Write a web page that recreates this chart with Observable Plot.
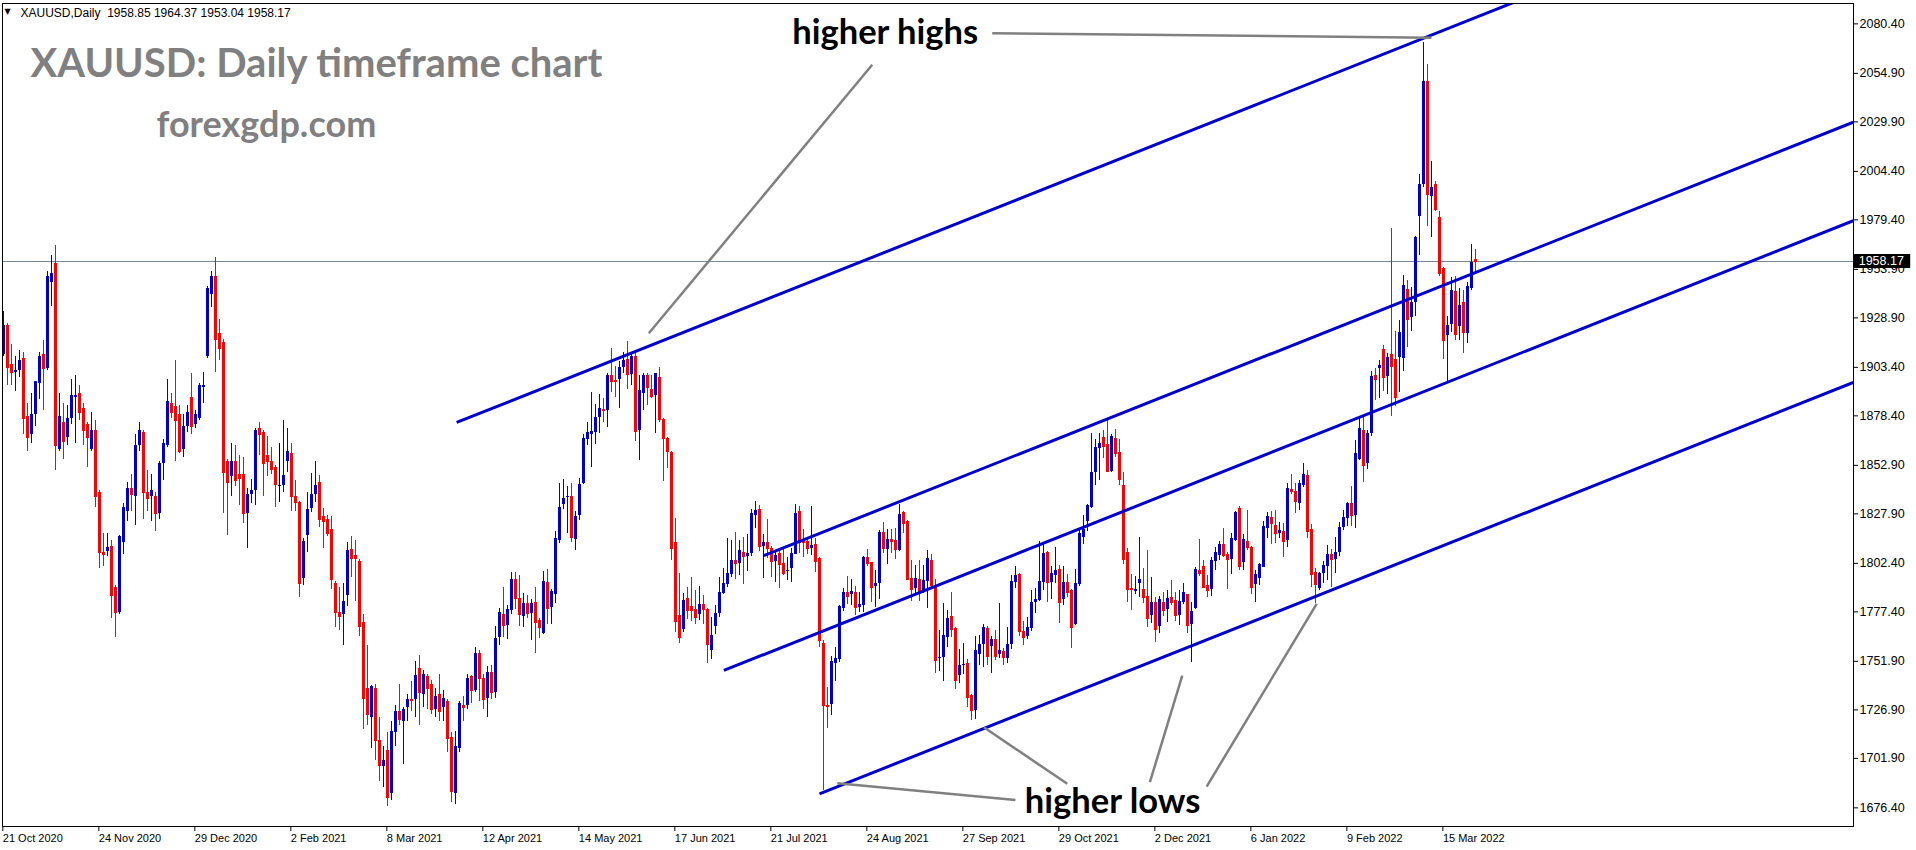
<!DOCTYPE html>
<html><head><meta charset="utf-8">
<script src="https://cdn.jsdelivr.net/npm/d3@7"></script>
<script src="https://cdn.jsdelivr.net/npm/@observablehq/plot@0.6"></script>
<style>html,body{margin:0;padding:0;background:#fff;overflow:hidden;} #chart svg{display:block;}</style>
</head><body><div id="chart"></div>
<script>
const symbol = "XAUUSD";
const timeframe = "Daily";
const chartTitle = "XAUUSD: Daily timeframe chart";
const siteName = "forexgdp.com";

// daily bars, index 0 = 21 Oct 2020
const opens = [
1910,1925,1905,1901,1902,1908,1878,1869,1879,1895,
1910,1903,1947,1957,1861,1875,1867,1877,1888,1890,
1882,1874,1861,1871,1839,1808,1808.5,1811,1790,1777,
1813,1829,1841,1837,1863,1870,1839,1837,1837,1828,
1854,1863,1885,1883,1879,1861,1873,1888,1874,1877,
1893,1909,1941,1950,1921,1916,1855,1847,1855,1848,
1848,1828,1838,1840,1872,1870,1858,1855,1852,1842.5,
1842.5,1855,1859,1837,1834,1794.6,1817,1830.5,1838,1844,
1826.4,1825,1820,1792,1777,1776,1786,1809.5,1806.6,1803.4,
1772,1738,1723,1738,1711,1697.6,1706,1684,1715,1726,
1721,1728,1732,1732,1748,1735,1744,1740,1727,1735,
1728,1731,1712.5,1684,1707,1729,1729,1744,1737,1756,
1743,1733,1746,1736,1764,1776,1770.5,1778.2,1794,1784.3,
1775.2,1781.7,1776.7,1782.2,1772.7,1766,1792.5,1779.4,1786.5,1814.1,
1832.9,1836.1,1836.8,1814.8,1827,1843.5,1866.4,1868.8,1870,1877.5,
1881.6,1881.1,1899.2,1896.6,1897.1,1903.3,1907.4,1899.8,1909.1,1871,
1890.1,1899.2,1891.9,1888.7,1898.1,1876.5,1866.9,1859.5,1813.1,1775.3,
1768.5,1784.3,1780.1,1778.6,1775.8,1781.2,1778.6,1757.5,1770,1776.4,
1786.8,1791.5,1796.6,1804,1802.5,1808,1805.9,1807.4,1827.2,1830.1,
1811.2,1813.1,1810.2,1803.5,1807.3,1802.3,1798,1799.7,1807.1,1829.1,
1814.8,1813.6,1810.2,1812.2,1804.9,1761.1,1729.1,1729.8,1751,1752.8,
1779.3,1787.4,1786.2,1787.5,1779.8,1780.8,1805.6,1802.8,1790.4,1792.2,
1818.5,1809.7,1814.5,1814.2,1809,1828.6,1823.8,1794.8,1789.3,1794.1,
1788.4,1793.2,1803.9,1790.1,1753.5,1754.1,1764.4,1775,1769,1744.6,
1749.8,1751,1734.3,1726.5,1755.4,1760.4,1768.8,1759.5,1763.1,1755.4,
1757,1753.5,1760.7,1792.5,1796.6,1767.4,1764.7,1769,1782.4,1783.4,
1792.7,1807.8,1792.7,1796.3,1799.2,1783.6,1792.7,1788.2,1771,1791.3,
1815.5,1824.1,1831.3,1849,1861.7,1867.2,1863.5,1849.7,1866.7,1859.3,
1842.5,1807.8,1789.3,1788.1,1792.1,1788.9,1785.3,1775.7,1782.2,1769.8,
1782.4,1778.8,1784.6,1783.2,1775.7,1782.4,1786.3,1770.9,1778.9,1798.5,
1800.8,1791,1788.7,1803.5,1806.3,1812.1,1807.1,1804.2,1814.2,1830.5,
1803,1813.8,1810.7,1791.3,1794.8,1800.4,1820.2,1825.8,1821.9,1817.6,
1818.8,1814.2,1840.3,1839.4,1833.1,1842.5,1847.7,1819.8,1797.9,1789.3,
1797,1800.8,1807,1804.5,1807.8,1820.7,1825.7,1833.4,1827.1,1855.9,
1870.9,1854.1,1869.1,1899.2,1903,1912.6,1898.9,1910.2,1907.5,1908.3,
1908.1,1943.4,1929.3,1937,1981.3,1997.6,2050.7,1991.6,1997.6,1980.5,
1954.2,1919.8,1925.5,1942.5,1924.5,1936.8,1921,1944.2,1958.85];

const highs = [
1932,1926,1915,1909,1912,1911,1885,1890,1896,1911,
1917,1953,1961,1966,1890,1885,1884,1897,1899,1894,
1885,1875,1880,1876,1840,1818,1818,1814,1791,1817,
1833,1844,1848,1869,1875,1871,1850,1848,1839,1855,
1866,1897,1890,1907,1884,1879,1884,1900,1881,1895,
1901,1945,1953,1960,1928,1918,1856,1864,1863,1858,
1857,1841,1845.5,1872,1875,1871,1868,1862,1853,1864,
1876,1872,1864,1845,1834.5,1815,1839,1848.6,1855,1847.6,
1830.5,1827,1826.6,1793,1790,1792,1813,1816,1814,1804.3,
1776,1760,1739.5,1740,1723,1708,1715,1721,1729,1740,
1728,1735,1741.5,1752,1755,1747,1745,1742,1738,1745,
1737,1732,1715,1716,1731,1734,1745,1744.5,1759,1757.5,
1745,1749,1750,1770,1779,1790,1780.6,1797.5,1797.8,1795.9,
1786.7,1785.6,1783.9,1789.9,1774.1,1798,1799,1789.1,1818.6,1843.3,
1845.4,1842,1843.7,1828.9,1846.1,1868.6,1874.9,1890.7,1884.4,1889.4,
1887.3,1900.4,1913.1,1903.8,1906.5,1911,1916.5,1910.7,1910.7,1899.2,
1900,1900,1899.3,1900.4,1903.3,1876.8,1867,1859.8,1825.5,1797,
1786.7,1790.1,1794.9,1788.4,1790.3,1785.6,1778.9,1774.3,1780.6,1795.1,
1799.5,1815,1814.3,1818.3,1814,1815.9,1817.2,1830.1,1834.2,1832.2,
1817.5,1825,1811,1808.7,1808.5,1809.7,1805.2,1809.9,1832.7,1831.5,
1819.6,1814.8,1831.8,1815.3,1805.5,1762.8,1738.3,1754.5,1759,1780.5,
1789.6,1795.4,1793.9,1790.3,1787.4,1806.1,1809.5,1803,1798.5,1819.3,
1823.4,1820,1820,1820.2,1832.9,1829.1,1824.5,1803.7,1801.3,1803.9,
1801.3,1809,1806.9,1793.9,1767.8,1781.7,1778.3,1787.4,1769.1,1758,
1761.1,1753,1734.8,1764.9,1765.2,1770.9,1769.8,1764.9,1767.8,1781.7,
1758.3,1769.5,1796.1,1800.8,1797,1772.4,1774.7,1788.4,1789.6,1813.8,
1812.1,1808.7,1800.8,1810.7,1801.5,1800.8,1796.8,1788.7,1799,1819.1,
1827,1832.7,1869.1,1866,1869.1,1870.7,1876,1868.6,1871.4,1866.2,
1849.4,1810.2,1796.5,1795.4,1815.9,1799.7,1809,1795.3,1784.6,1785.5,
1787.4,1788.2,1793.4,1787.4,1788.2,1792.2,1786.5,1782.2,1800.4,1814.7,
1803.7,1796.1,1805.4,1810.4,1813.6,1820.5,1808.1,1817.6,1829.3,1831.5,
1817.1,1829.6,1811.1,1798.7,1802.1,1824,1828.4,1829.1,1829.6,1823.3,
1823.1,1843.7,1848,1843.7,1845.1,1853.7,1850.2,1822.2,1799.9,1797.7,
1803.3,1811.6,1809.4,1815.5,1823.6,1829.6,1833.9,1842,1865.6,1877.8,
1877.8,1870.9,1901.5,1902.7,1907,1914.6,1910.4,1974.8,1921.9,1927.6,
1950.7,1948.2,1944.7,1970.6,2002.8,2071,2059.6,2009.4,1999,1983.9,
1954.7,1929.6,1949.8,1950.2,1943.9,1943,1947.3,1966.6,1964.37];

const lows = [
1909,1894,1894,1891,1898,1869,1860,1864,1873,1887,
1881,1902,1935,1850,1860,1856,1863,1874,1864,1876,
1863,1852,1860,1831,1800,1801,1806,1774,1764,1776,
1807,1824,1829,1822,1860,1825,1829,1824,1819,1825,
1845,1862,1877,1855,1859,1857,1870,1869,1872,1876,
1885,1908,1934,1901,1907,1828,1817,1837,1842,1832,
1823,1810,1833,1832,1858,1837,1847,1848,1831,1834,
1839,1849,1829,1829,1785,1791,1808,1828.6,1834,1821,
1810,1816,1789,1769.5,1768,1760,1780,1795,1783,1764.5,
1717,1719,1707,1701,1690,1687,1677,1680,1708,1719,
1699,1721,1726,1723,1719,1728,1727,1724.5,1723,1721,
1721,1705,1679,1678,1705,1721,1727,1730,1736,1731,
1727,1723,1732,1733,1760,1764,1763.3,1776.2,1778.8,1770,
1769.1,1773.8,1762.4,1756.1,1763.8,1765.5,1771,1770.7,1781.8,1812.8,
1829.9,1817.6,1813.1,1808.8,1824.3,1843.2,1863.3,1851.9,1863.9,1869.4,
1875.1,1872.5,1890.6,1888,1882.2,1900,1891.9,1894.2,1865.2,1855.5,
1881.1,1883.9,1887.3,1869.4,1874.8,1844.7,1851.2,1804,1766.7,1760.9,
1766.9,1773.3,1772.4,1770.7,1772.9,1770.9,1750.6,1753,1765.5,1774.6,
1786.3,1789.9,1794.9,1793.9,1796,1791.7,1798.4,1806,1820.2,1808.7,
1794.7,1805,1794.9,1792.7,1789.6,1796.1,1793.7,1792.4,1806.9,1807.3,
1805.6,1806.9,1806.4,1797.8,1759.2,1685.3,1717.5,1724.1,1741.7,1751.5,
1777.7,1781.3,1780.5,1775.3,1777.2,1776.9,1800.7,1782.4,1779.6,1783.6,
1807.6,1801.6,1807.3,1804.5,1808.7,1817.9,1793.5,1782.6,1786.3,1782.9,
1786.7,1779.3,1789.3,1745.4,1746.5,1741.5,1759.2,1764,1737.4,1740.3,
1745,1728.1,1721.6,1722.1,1749.6,1748.9,1749.7,1745.8,1752.3,1753.5,
1749.7,1750.6,1757.8,1789.3,1764.7,1759.9,1763,1767.1,1776.4,1782.9,
1788.4,1782.4,1783.8,1791.8,1771.6,1780.8,1784.8,1758.7,1770.5,1790.5,
1812.1,1819,1830.5,1842.5,1845.1,1856.2,1849.4,1849.4,1857.1,1842.5,
1801.8,1782,1778.3,1786.3,1784.6,1781.5,1769.5,1771.2,1761.8,1766.1,
1774.8,1772.1,1780.7,1772.4,1770.2,1781.4,1766.1,1751.5,1778.4,1795.8,
1789.3,1784.6,1785.1,1798.9,1803.9,1805.6,1789.1,1796.6,1813.8,1798.7,
1798.7,1809,1786.2,1782.4,1791,1800.1,1815,1812.3,1812.8,1815,
1805.6,1810.7,1837.9,1828.3,1829.6,1841.6,1815.4,1790.1,1781.9,1788.4,
1791.8,1793.6,1790.1,1797,1806.1,1819.3,1821.6,1821.5,1820.6,1855.4,
1844.3,1850.6,1868,1886.3,1887.6,1891.1,1889.4,1878.3,1883.3,1890.6,
1901.5,1913.8,1921.9,1929.6,1961,1996,1975.9,1970.5,1983.9,1950.2,
1907.3,1895.8,1921.6,1917.3,1917.3,1910.4,1915.5,1943,1953.04];

const closes = [
1925,1903.5,1901,1902,1907,1877,1867,1879,1896,1909,
1903,1950,1952,1863,1878,1865,1877,1889,1889,1880,
1871,1867,1871,1837,1808,1807,1810.6,1786,1777,1816,
1831,1841,1838,1863,1871,1839,1836,1840,1828,1854,
1864,1886,1880,1876,1860,1873,1880,1873,1879,1894,
1894,1944,1950,1918,1913,1849,1844,1855,1845,1846,
1828,1838,1840,1871,1869,1854,1855,1851,1843,1842.5,
1847.6,1860,1837,1834,1792,1813.5,1830,1837.7,1842.5,1825,
1824,1818,1794,1777,1775,1783,1809,1804.7,1804.7,1770,
1733,1724.5,1739,1711,1698,1700.6,1682,1716,1726,1722,
1727,1732,1731.7,1744.5,1736,1745,1738,1727,1734,1726,
1733,1712,1685,1708,1730,1728,1743,1737,1756,1743,
1732,1746,1736,1763.5,1777,1770.5,1778.6,1794,1784.4,1776,
1781.7,1776.7,1781.7,1771.9,1769.1,1793,1779.3,1788,1815.2,1831,
1835.8,1837,1815.9,1826.8,1843,1866.7,1869.8,1870.5,1877.5,1882,
1881.1,1899.2,1896.2,1896.2,1903.3,1906.9,1899.8,1909.1,1870.5,1891.6,
1899.2,1893.1,1888.5,1900,1876.3,1866.5,1860.2,1810.2,1772.6,1764.3,
1783.1,1778.2,1778.1,1774.5,1781.2,1778.8,1760.7,1765,1776.5,1787.2,
1792,1797.3,1804,1802.1,1809,1805.9,1807.4,1828,1829.6,1811.2,
1813.1,1810.2,1803.5,1806.5,1802,1797.3,1798.7,1807.4,1828,1813,
1813,1810.2,1811.6,1803.5,1762.8,1729.1,1728.6,1751.7,1753.3,1780.1,
1787.4,1785.3,1787.9,1779.8,1781.2,1805.6,1802.4,1790.1,1791.8,1818.5,
1810.2,1814.8,1813.6,1809.4,1827.7,1822.7,1793.9,1789.1,1794.4,1787.9,
1793.5,1804.7,1791,1752.3,1754.1,1765,1774.1,1768.2,1742,1749.8,
1750.5,1733.3,1726.4,1757.5,1760.6,1769.5,1754.6,1763.1,1754.4,1757.5,
1753.9,1760.4,1793,1796.1,1767.4,1764.4,1769.2,1782.4,1783.8,1793,
1807.5,1792.7,1797.3,1798.7,1782,1792.5,1787.5,1769.3,1792,1817.8,
1820,1832.2,1849.2,1862.1,1864.1,1862.8,1849.7,1867.9,1858.8,1845.4,
1804.5,1789.1,1788.7,1789.1,1794,1785,1774.1,1782.2,1768.5,1783.6,
1778.3,1784.3,1782.4,1775.5,1782.9,1787.4,1770.2,1777.7,1799.2,1797.2,
1790.1,1788.4,1803.7,1808,1812.1,1806.4,1804.2,1815,1828.8,1800.9,
1814.7,1810.7,1789.8,1796.5,1801.8,1821.4,1826.5,1822.8,1817.6,1819.3,
1813.8,1840.8,1839.4,1834.4,1843.7,1848,1819,1796.5,1791.5,1797,
1801.3,1807,1804.5,1807.8,1821,1826.2,1833.2,1827,1858.8,1872,
1852.9,1869.3,1898.7,1897.2,1904.4,1898.4,1908.5,1903.9,1888.1,1921.4,
1945.6,1927.9,1936.8,1970.3,1997.6,2050.7,1992.5,1995.9,1984.7,1951.6,
1917.3,1925,1943,1920.4,1935.3,1921.4,1945.1,1957.5,1958.17];

// time axis: bar index of each date label
const xTickBars = [0,24,48,72,96,120,144,168,192,216,240,264,288,312,336,360];
const xTickLabels = ["21 Oct 2020","24 Nov 2020","29 Dec 2020","2 Feb 2021","8 Mar 2021","12 Apr 2021","14 May 2021","17 Jun 2021","21 Jul 2021","24 Aug 2021","27 Sep 2021","29 Oct 2021","2 Dec 2021","6 Jan 2022","9 Feb 2022","15 Mar 2022"];
// price axis labels
const yTickLabels = ["1676.40","1701.90","1726.90","1751.90","1777.40","1802.40","1827.90","1852.90","1878.40","1903.40","1928.90","1953.90","1979.40","2004.40","2029.90","2054.90","2080.40"];

// channel trend lines: start bar/price, end bar/price
const channelStartBar = [113.2, 190.0, 180.0, 203.9];
const channelStartPrice = [1875.0, 1806.4, 1747.2, 1683.6];
const channelEndBar = [379.2, 462.35, 462.35, 462.35];
const channelEndPrice = [2092.9, 2029.7, 1979.0, 1895.6];

// grey pointer lines from the notes to the highs / lows
const pointerStartBar = [247.1, 217.1, 252.9, 265.85, 286.5, 300.7];
const pointerStartPrice = [2075.6, 2059.3, 1680.5, 1688.8, 1689.6, 1687.4];
const pointerEndBar = [356.9, 161.25, 208.35, 245.0, 294.6, 328.2];
const pointerEndPrice = [2073.3, 1921.0, 1689.1, 1717.9, 1744.6, 1781.5];

const noteTexts = ["higher highs", "higher lows"];
const noteBar = [197.1, 255.25];
const notePrice = [2075.9, 1679.4];

// ---- build ----
const candles = opens.map((o, i) => ({i, open: o, high: highs[i], low: lows[i], close: closes[i]}));
const candleColor = d => d.close > d.open ? "#0000cd" : d.close < d.open ? "#ff0000" : "#000000";
const last = candles[candles.length - 1];
const channels = channelStartBar.map((b, k) => ({x1: b, y1: channelStartPrice[k], x2: channelEndBar[k], y2: channelEndPrice[k]}));
const pointers = pointerStartBar.map((b, k) => ({x1: b, y1: pointerStartPrice[k], x2: pointerEndBar[k], y2: pointerEndPrice[k]}));
const notes = noteTexts.map((t, k) => ({text: t, x: noteBar[k], y: notePrice[k]}));
const xLabelOf = new Map(xTickBars.map((b, k) => [b, xTickLabels[k]]));
const yTickValues = yTickLabels.map(Number);
const yLabelOf = new Map(yTickValues.map((v, k) => [v, yTickLabels[k]]));
const fmt = v => v.toFixed(2);
const header = `${symbol},${timeframe}\u00a0\u00a0${fmt(last.open)} ${fmt(last.high)} ${fmt(last.low)} ${fmt(last.close)}`;

const W = 1916, H = 850;
const xDomain = [-0.33, 462.4];
const half = 0.375;

const chart = Plot.plot({
  width: W, height: H,
  marginLeft: 2, marginRight: 63, marginTop: 3, marginBottom: 24,
  style: {background: "#ffffff", fontFamily: "'Liberation Sans', Arial, sans-serif", overflow: "visible", color: "#000"},
  x: {type: "linear", domain: xDomain},
  y: {type: "linear", domain: [1666.8, 2090.9]},
  marks: [
    Plot.ruleY([last.close], {stroke: "#778899", strokeWidth: 1, shapeRendering: "crispEdges"}),
    Plot.ruleX(candles, {x: "i", y1: "low", y2: "high", stroke: candleColor, strokeWidth: 1, shapeRendering: "crispEdges"}),
    Plot.rect(candles, {x1: d => d.i - half, x2: d => d.i + half, y1: "open", y2: "close", fill: candleColor, shapeRendering: "crispEdges"}),
    Plot.ruleY(candles, {y: "close", x1: d => d.i - half, x2: d => d.i + half, stroke: candleColor, strokeWidth: 1, shapeRendering: "crispEdges"}),
    Plot.link(channels, {x1: "x1", y1: "y1", x2: "x2", y2: "y2", stroke: "#0000cd", strokeWidth: 3, clip: true}),
    Plot.link(pointers, {x1: "x1", y1: "y1", x2: "x2", y2: "y2", stroke: "#808080", strokeWidth: 2.5}),
    Plot.text(notes, {x: "x", y: "y", text: "text", textAnchor: "start", fontFamily: "Lato, 'Open Sans', sans-serif", fontWeight: "bold", fontSize: 34.5, fill: "#000"}),
    Plot.frame({stroke: "#000", strokeWidth: 1, shapeRendering: "crispEdges"}),
    Plot.axisX(xTickBars, {anchor: "bottom", tickSize: 5, tickPadding: 3, textAnchor: "start", dx: -1, fontSize: 11, tickFormat: d => xLabelOf.get(d), label: null}),
    Plot.axisY(yTickValues, {anchor: "right", tickSize: 4, tickPadding: 2, fontSize: 12.5, tickFormat: d => yLabelOf.get(d), label: null}),
    Plot.ruleY([last.close], {x1: xDomain[1], x2: 476.7, stroke: "#000", strokeWidth: 14}),
    Plot.text([last.close], {x: 463.7, y: d => d, text: d => fmt(d), fill: "#fff", textAnchor: "start", fontSize: 12.5}),
    Plot.text(["\u25BC"], {frameAnchor: "top-left", dx: 2, dy: 5, fontSize: 8, fill: "#000", fontFamily: "'DejaVu Sans', sans-serif"}),
    Plot.text([header], {frameAnchor: "top-left", dx: 18, dy: 5, fontSize: 12, fill: "#000"}),
    Plot.text([chartTitle], {frameAnchor: "top-left", dx: 28, dy: 44.6, fontSize: 40, fontWeight: "bold", fontFamily: "Lato, 'Open Sans', sans-serif", fill: "#808080"}),
    Plot.text([siteName], {frameAnchor: "top-left", dx: 154, dy: 108.4, fontSize: 36, fontWeight: "bold", fontFamily: "Lato, 'Open Sans', sans-serif", fill: "#808080"})
  ]
});
document.getElementById("chart").appendChild(chart);
</script>
</body></html>
